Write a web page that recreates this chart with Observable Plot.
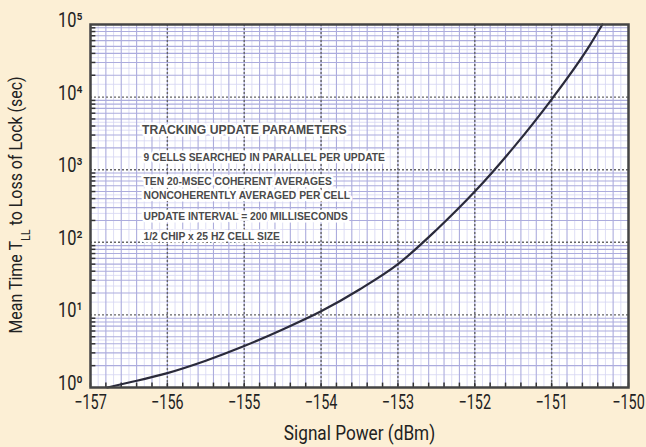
<!DOCTYPE html>
<html>
<head>
<meta charset="utf-8">
<script src="https://cdn.jsdelivr.net/npm/d3@7"></script>
<script src="https://cdn.jsdelivr.net/npm/@observablehq/plot@0.6"></script>
<style>
  html, body { margin: 0; padding: 0; background: #fcefd5; }
  #chart svg { display: block; }
</style>
</head>
<body>
<div id="chart"></div>
<script>
// Signal power (dBm) and mean time to loss of lock (sec)
const signalPower = [-156.78, -156.5, -156, -155.5, -155, -154.5, -154, -153.5, -153, -152.5, -152, -151.5, -151, -150.5, -150.34];
const meanTime    = [1, 1.17, 1.58, 2.34, 3.72, 6.3, 11.2, 22.4, 50, 148, 500, 2000, 9330, 52500, 100000];

const xTicks = [-157, -156, -155, -154, -153, -152, -151, -150];
const yTicks = [1, 10, 100, 1000, 10000, 100000];
const supers = ["⁰","¹","²","³","⁴","⁵"];

const noteLines = [
  "TRACKING UPDATE PARAMETERS",
  "9 CELLS SEARCHED IN PARALLEL PER UPDATE",
  "TEN 20-MSEC COHERENT AVERAGES",
  "NONCOHERENTLY AVERAGED PER CELL",
  "UPDATE INTERVAL = 200 MILLISECONDS",
  "1/2 CHIP x 25 HZ CELL SIZE"
];
const noteX = [-156.33, -156.31, -156.31, -156.31, -156.31, -156.31];
const noteY = [3470, 1480, 690, 440, 225, 120];

const curve = signalPower.map((p, i) => ({p, t: meanTime[i]}));
const notes = noteLines.map((s, i) => ({s, x: noteX[i], y: noteY[i], bold: i === 0}));

// grid helpers
const xMinor = d3.range(-157, -149.99, 0.2).map(v => +v.toFixed(2));
const xFine = d3.range(-156.9, -149.99, 0.2).map(v => +v.toFixed(2));
const yMinor = [];
const yFine = [];
for (let e = 0; e < 5; e++) {
  for (let k = 2; k <= 9; k++) yMinor.push(k * 10 ** e);
  for (let k = 1.5; k < 5; k += 1) yFine.push(k * 10 ** e);
}

const font = "Roboto, 'DejaVu Sans', sans-serif";

const chart = Plot.plot({
  width: 646,
  height: 447,
  marginLeft: 90,
  marginRight: 18,
  marginTop: 24,
  marginBottom: 60,
  style: { background: "#fcefd5", fontFamily: font },
  x: { domain: [-157, -150] },
  y: { type: "log", domain: [1, 100000] },
  marks: [
    Plot.frame({ fill: "white" }),
    Plot.ruleX(xFine, { stroke: "#d6d6f2", strokeWidth: 0.8 }),
    Plot.ruleY(yFine, { stroke: "#d6d6f2", strokeWidth: 0.8 }),
    Plot.ruleX(xMinor, { stroke: "#acacdd", strokeWidth: 1.1 }),
    Plot.ruleY(yMinor, { stroke: "#acacdd", strokeWidth: 1.1 }),
    Plot.ruleX(xTicks.slice(1, -1), { stroke: "#666", strokeWidth: 1.4, strokeDasharray: "2,2" }),
    Plot.ruleY(yTicks.slice(1, -1), { stroke: "#666", strokeWidth: 1.4, strokeDasharray: "2,2" }),
    // edge ticks inside the frame
    Plot.ruleY(yMinor, { x1: -157, x2: -156.93, stroke: "#333", strokeWidth: 1.5 }),
    Plot.ruleX(xMinor, { y1: 1, y2: 1.15, stroke: "#333", strokeWidth: 1.5 }),
    Plot.text(notes, {
      x: "x", y: "y", text: "s", textAnchor: "start",
      fontFamily: "'Liberation Sans', Arial, sans-serif",
      fontWeight: "bold",
      fontSize: d => d.bold ? 12.2 : 10.3,
      fill: "#4a4a4a", stroke: "white", strokeWidth: 5
    }),
    Plot.line(curve, { x: "p", y: "t", curve: "monotone-x", stroke: "#2a2a3a", strokeWidth: 2.2 }),
    Plot.frame({ stroke: "#444", strokeWidth: 2.5 }),
    Plot.axisX({
      ticks: xTicks, tickSize: 0, tickPadding: 7, fontSize: 20,
      tickFormat: d => "\u2212" + Math.abs(d),
      label: "Signal Power (dBm)", labelAnchor: "center", labelArrow: "none", labelOffset: 52
    }),
    Plot.axisY({
      ticks: yTicks, tickSize: 0, tickPadding: 8, fontSize: 20, dy: -4,
      tickFormat: d => "10" + supers[Math.round(Math.log10(d))],
      label: null
    })
  ]
});

const svg = d3.select(chart);

// condense text horizontally (narrow typeface look), keeping it as real text
function condense(sel, sx) {
  sel.each(function () {
    const el = d3.select(this);
    const xa = el.attr("x");
    const xn = xa != null && /^-?[\d.]+$/.test(xa) ? +xa : 0;
    const t = el.attr("transform") || "";
    if (xn) el.attr("x", null);
    el.attr("transform", `${t} translate(${xn},0) scale(${sx},1)`);
  });
}
svg.selectAll("[aria-label='x-axis label'] text").attr("font-size", 20);
svg.selectAll("[aria-label^='x-axis'], [aria-label^='y-axis']").attr("fill", "#222");
condense(svg.selectAll("[aria-label='x-axis tick label'] text"), 0.72);
condense(svg.selectAll("[aria-label='y-axis tick label'] text"), 0.82);
condense(svg.selectAll("[aria-label='x-axis label'] text"), 0.86);

const yl = svg.append("text")
  .attr("transform", "translate(22,205) rotate(-90) scale(0.84,1)")
  .attr("text-anchor", "middle")
  .attr("font-family", font)
  .attr("font-size", 19)
  .attr("fill", "#222");
yl.append("tspan").text("Mean Time T");
yl.append("tspan").attr("baseline-shift", "sub").attr("font-size", 13).text("LL");
yl.append("tspan").text(" to Loss of Lock (sec)");

document.getElementById("chart").appendChild(chart);
</script>
</body>
</html>
